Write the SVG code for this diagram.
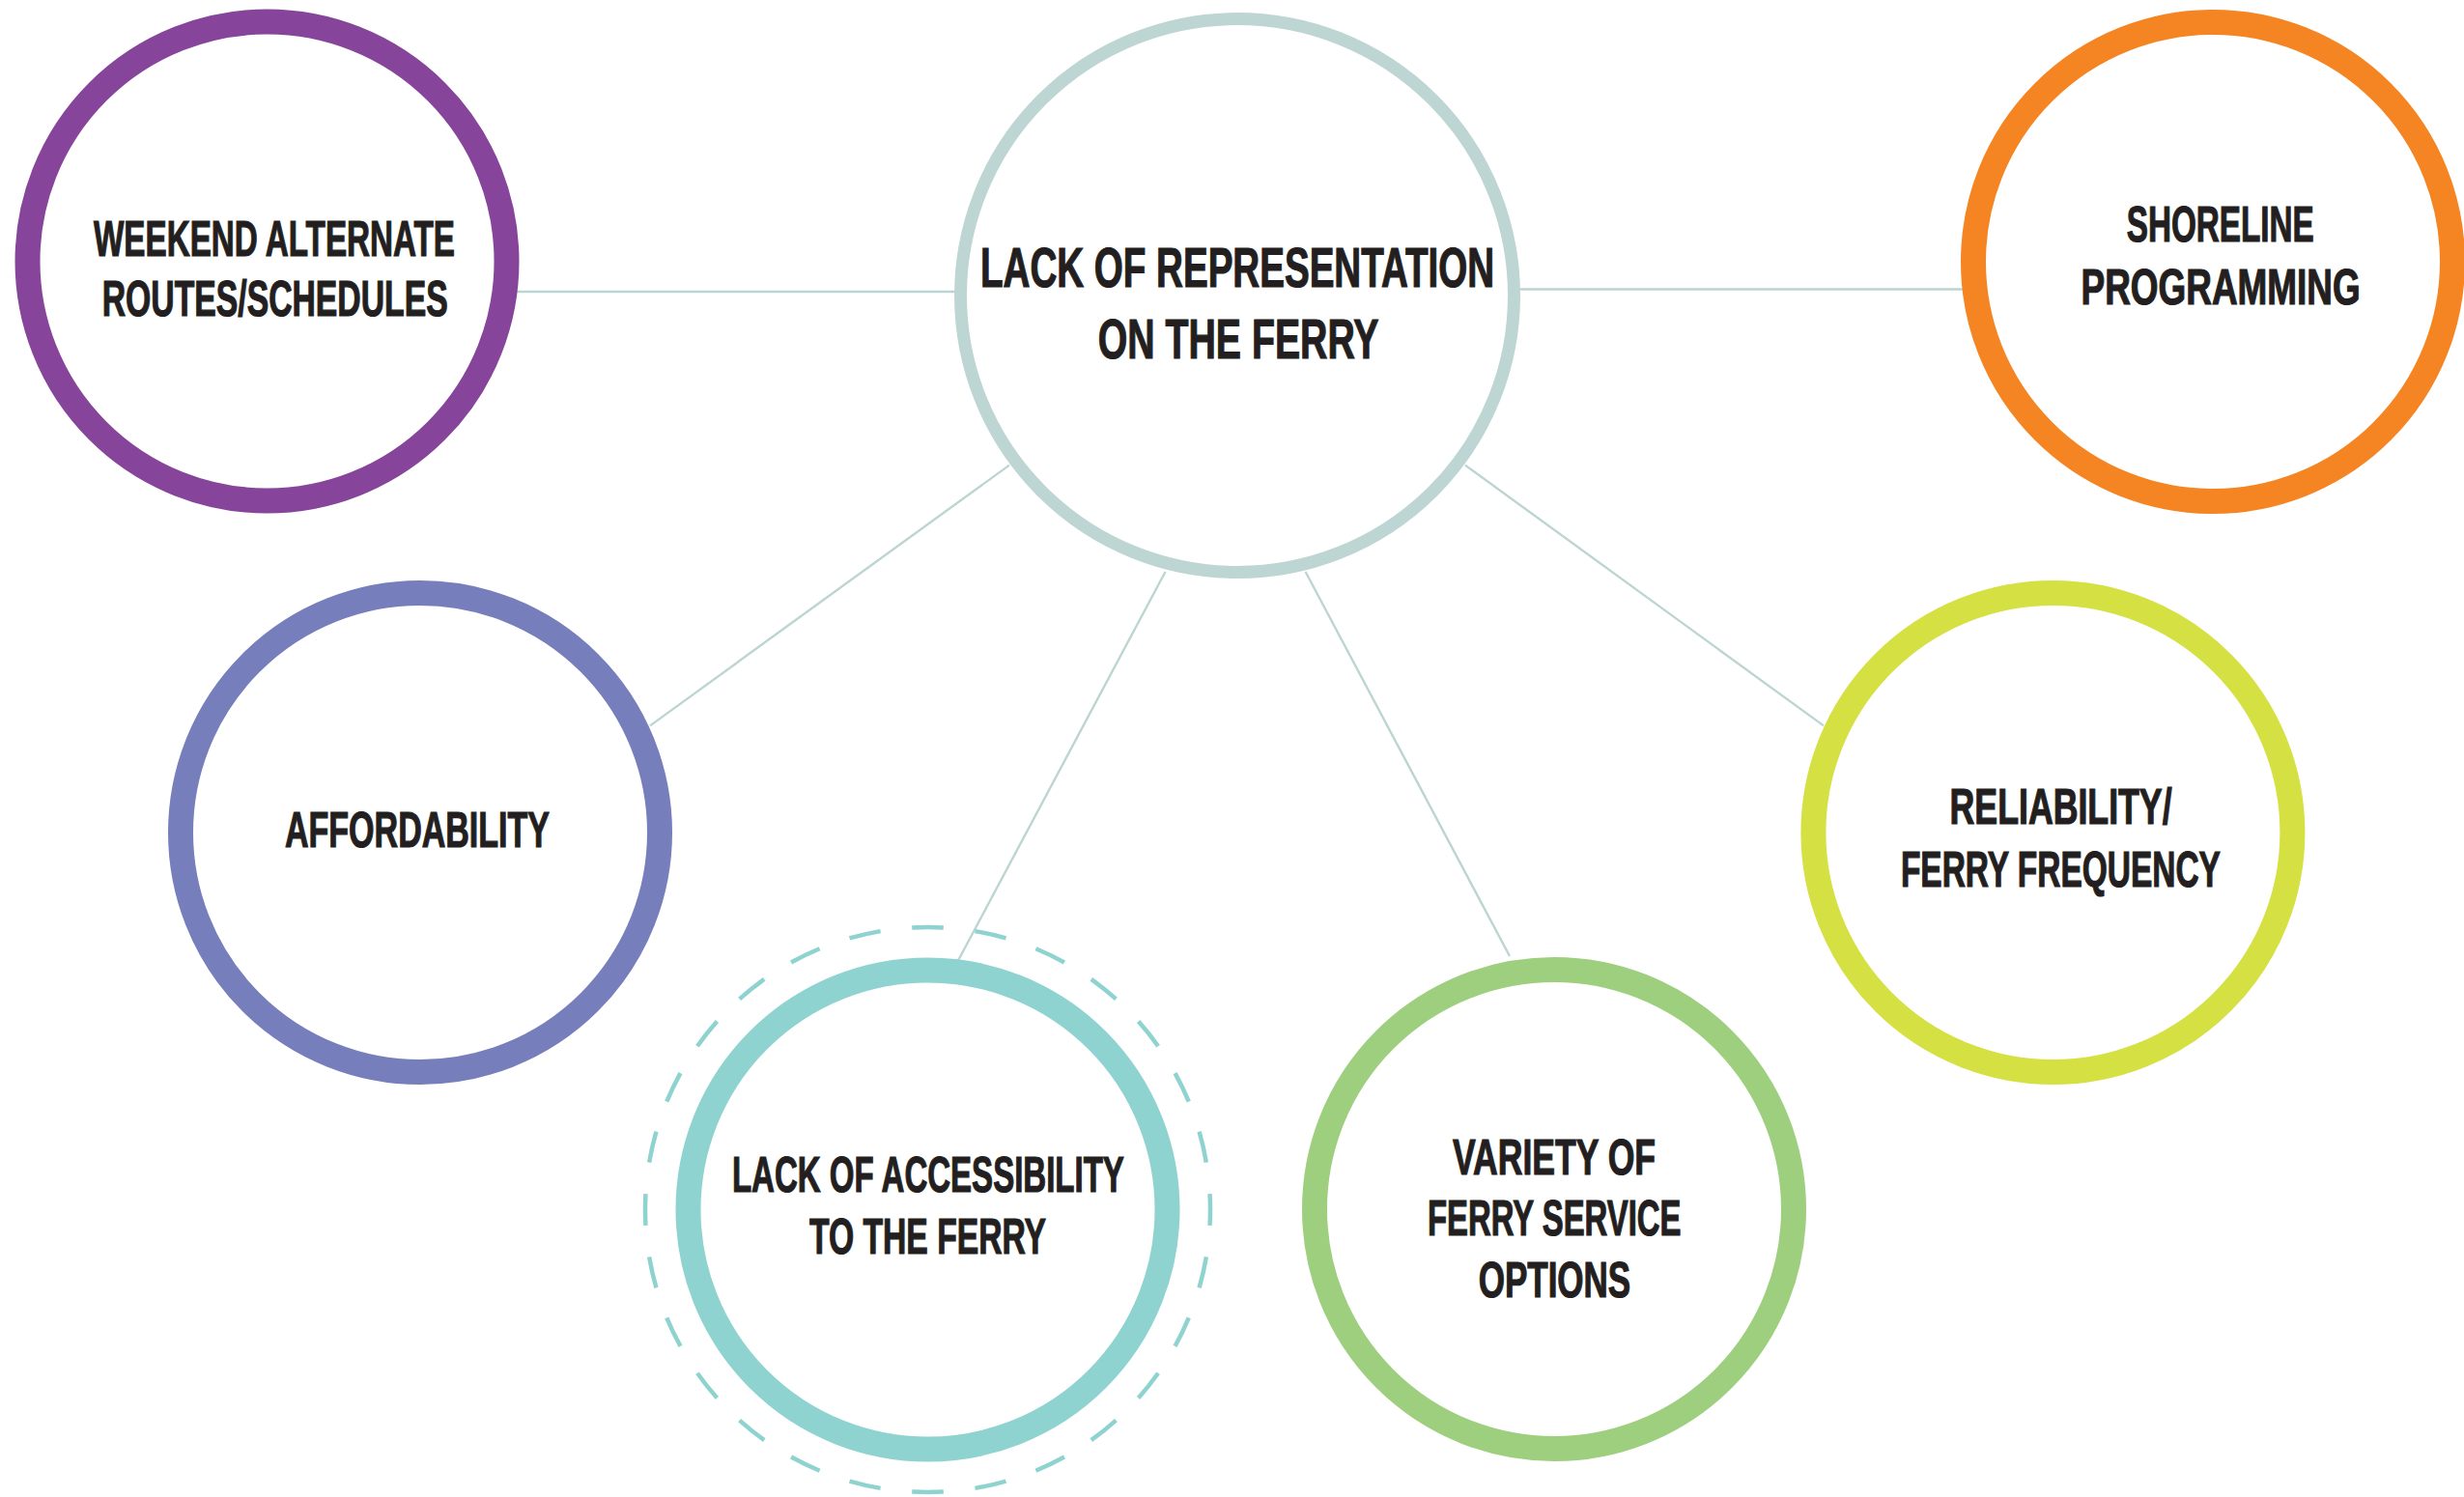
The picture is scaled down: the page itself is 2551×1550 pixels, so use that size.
<svg xmlns="http://www.w3.org/2000/svg" width="2551" height="1550" viewBox="0 0 2551 1550">
<style>
.bg{fill:#ffffff}
.ring{fill:#ffffff;stroke-width:26}
.conn{stroke:#bdd5d2;stroke-width:2.4;fill:none}
.lbl{font-family:"Liberation Sans Narrow","Liberation Sans","DejaVu Sans Condensed",sans-serif;font-weight:bold;font-size:51px;fill:#231f20;stroke:#231f20;stroke-width:1.2}
.big{font-size:57px}
</style>
<rect class="bg" x="0" y="0" width="2551" height="1550"/>
<g id="connectors">
<line class="conn" x1="530" y1="302" x2="992" y2="302"/>
<line class="conn" x1="1570" y1="299.5" x2="2036" y2="299.5"/>
<line class="conn" x1="1045" y1="481.6" x2="673" y2="751.4"/>
<line class="conn" x1="1206.5" y1="592" x2="990.7" y2="997"/>
<line class="conn" x1="1351.6" y1="592" x2="1563" y2="990"/>
<line class="conn" x1="1516.9" y1="481.6" x2="1888" y2="751.4"/>
</g>
<g id="center">
<circle cx="1281" cy="306" r="286.5" fill="#ffffff" stroke="#bed6d3" stroke-width="13"/>
<text class="lbl big" x="1015" y="297" textLength="532" lengthAdjust="spacingAndGlyphs">LACK OF REPRESENTATION</text>
<text class="lbl big" x="1136.8" y="371" textLength="290.7" lengthAdjust="spacingAndGlyphs">ON THE FERRY</text>
</g>
<g id="weekend">
<circle class="ring" cx="276.5" cy="270.5" r="248" stroke="#86449a"/>
<text class="lbl" x="97" y="265" textLength="374" lengthAdjust="spacingAndGlyphs">WEEKEND ALTERNATE</text>
<text class="lbl" x="105.7" y="327" textLength="358" lengthAdjust="spacingAndGlyphs">ROUTES/SCHEDULES</text>
</g>
<g id="shoreline">
<circle class="ring" cx="2291" cy="271" r="248" stroke="#f58522"/>
<text class="lbl" x="2201.8" y="250.4" textLength="194" lengthAdjust="spacingAndGlyphs">SHORELINE</text>
<text class="lbl" x="2154.6" y="315" textLength="289" lengthAdjust="spacingAndGlyphs">PROGRAMMING</text>
</g>
<g id="affordability">
<circle class="ring" cx="435" cy="862" r="248" stroke="#767ebc"/>
<text class="lbl" x="295" y="877" textLength="274" lengthAdjust="spacingAndGlyphs">AFFORDABILITY</text>
</g>
<g id="accessibility">
<circle cx="960.5" cy="1252.5" r="292.5" fill="none" stroke="#8ed3cf" stroke-width="4.5" pathLength="280" stroke-dasharray="5 5" stroke-dashoffset="2.5"/>
<circle class="ring" cx="960.5" cy="1252.5" r="248" stroke="#8ed3cf"/>
<text class="lbl" x="757.9" y="1234" textLength="406" lengthAdjust="spacingAndGlyphs">LACK OF ACCESSIBILITY</text>
<text class="lbl" x="838" y="1297.5" textLength="245" lengthAdjust="spacingAndGlyphs">TO THE FERRY</text>
</g>
<g id="variety">
<circle class="ring" cx="1609" cy="1252" r="248" stroke="#9dcf7e"/>
<text class="lbl" x="1504" y="1216.4" textLength="210" lengthAdjust="spacingAndGlyphs">VARIETY OF</text>
<text class="lbl" x="1478" y="1279" textLength="262.5" lengthAdjust="spacingAndGlyphs">FERRY SERVICE</text>
<text class="lbl" x="1530.7" y="1343" textLength="157.5" lengthAdjust="spacingAndGlyphs">OPTIONS</text>
</g>
<g id="reliability">
<circle class="ring" cx="2125.4" cy="862" r="248" stroke="#d5e042"/>
<text class="lbl" x="2018.6" y="853" textLength="230" lengthAdjust="spacingAndGlyphs">RELIABILITY/</text>
<text class="lbl" x="1967.9" y="917.5" textLength="331" lengthAdjust="spacingAndGlyphs">FERRY FREQUENCY</text>
</g>
</svg>
